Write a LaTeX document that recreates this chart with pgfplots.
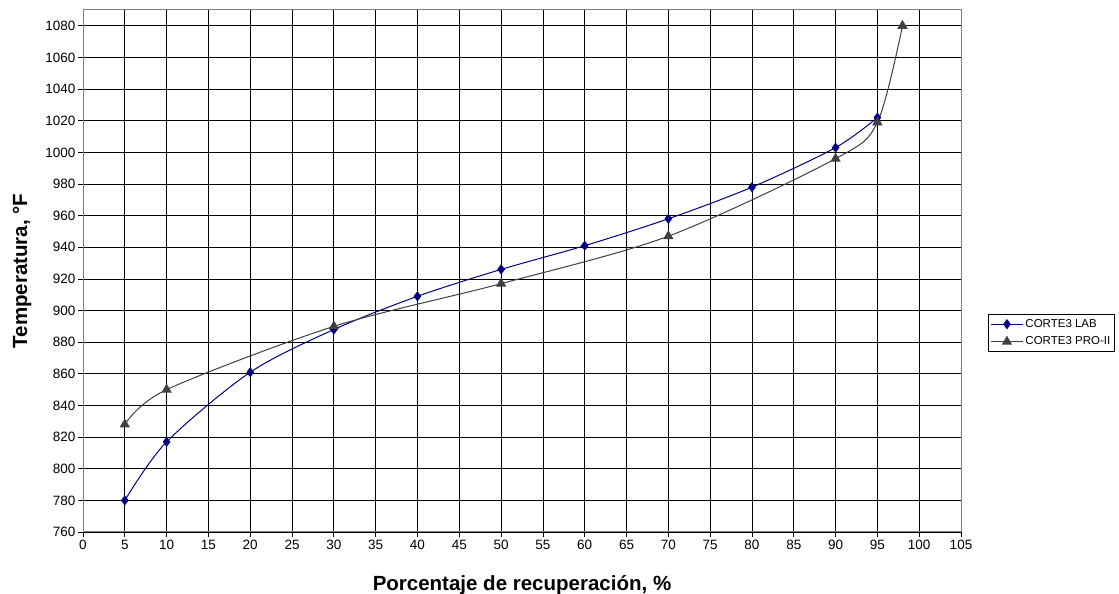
\documentclass[border=0pt]{standalone}
\usepackage{pgfplots}
\pgfplotsset{compat=1.18}
\usepackage{fontspec}
\setmainfont{Liberation Sans}

\definecolor{labblue}{RGB}{0,0,128}
\definecolor{progray}{RGB}{64,64,64}
\definecolor{framegray}{RGB}{128,128,128}

\begin{document}
\begin{tikzpicture}
\useasboundingbox (0pt,0pt) rectangle (1119pt,594pt);
\begin{axis}[
  at={(83pt,62pt)}, anchor=south west,
  scale only axis,
  width=878pt, height=522pt,
  xmin=0, xmax=105, ymin=760, ymax=1090,
  xtick={0,5,...,105},
  ytick={760,780,...,1080},
  grid=major,
  major grid style={black, line width=0.8pt},
  axis line style={framegray, line width=1pt},
  tick style={black, line width=0.8pt},
  tick align=outside,
  major tick length=5pt,
  xtick pos=bottom, ytick pos=left,
  ticklabel style={font=\fontsize{13.5}{15}\selectfont},
  yticklabel style={xshift=1pt},
  /pgf/number format/assume math mode=true,
  /pgf/number format/1000 sep={},
  xlabel={\textbf{Porcentaje de recuperación, \%}},
  ylabel={\textbf{Temperatura, °F}},
  label style={font=\fontsize{20.5}{23}\selectfont},
  xlabel style={at={(axis description cs:0.5,0)}, anchor=center, yshift=-53pt},
  ylabel style={at={(axis description cs:0,0.5)}, anchor=center, yshift=61pt},
  legend style={
    at={(axis description cs:1.0308,0.4176)}, anchor=north west,
    draw=black, line width=0.8pt,
    font=\fontsize{11.5}{13}\selectfont,
    inner xsep=2pt, inner ysep=3pt, row sep=4pt,
    cells={anchor=west},
  },
  legend image code/.code={
    \draw[mark repeat=2,mark phase=2,#1] plot coordinates {(0pt,0pt) (16pt,0pt) (32pt,0pt)};
  },
  clip=false,
]
\addplot[labblue, line width=1pt, smooth, tension=0.5,
  mark=diamond*, mark size=4.3pt, mark options={fill=labblue, draw=labblue}]
  coordinates {
    (5,780) (10,817) (20,861) (30,888) (40,909) (50,926)
    (60,941) (70,958) (80,978) (90,1003) (95,1022)
  };
\addlegendentry{CORTE3 LAB}
\addplot[progray, line width=1pt, smooth, tension=0.5,
  mark=triangle*, mark size=5pt, mark options={fill=progray, draw=progray}]
  coordinates {
    (5,828) (10,850) (30,890) (50,917) (70,947) (90,996) (95,1019) (98,1080)
  };
\addlegendentry{CORTE3 PRO-II}
\end{axis}
\end{tikzpicture}
\end{document}
